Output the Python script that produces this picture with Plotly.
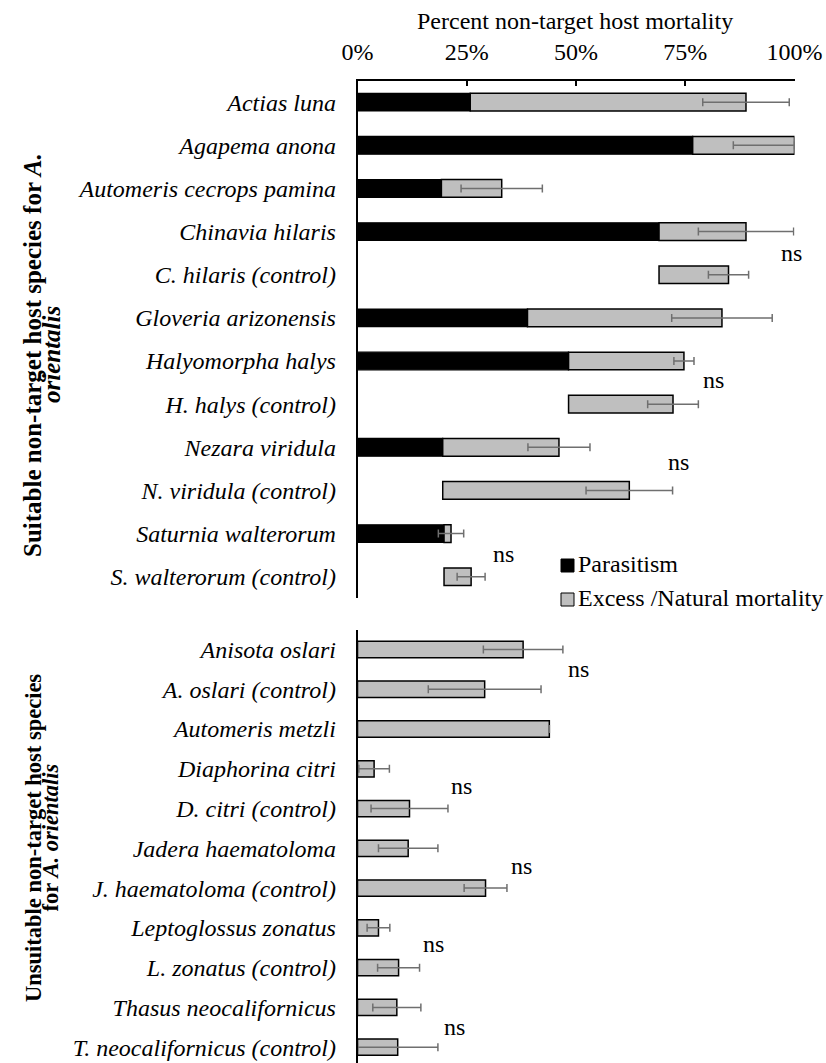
import plotly.graph_objects as go

# ---------------- data ----------------
suitable_hosts = [
    "Actias luna", "Agapema anona", "Automeris cecrops pamina", "Chinavia hilaris",
    "C. hilaris (control)", "Gloveria arizonensis", "Halyomorpha halys", "H. halys (control)",
    "Nezara viridula", "N. viridula (control)", "Saturnia walterorum", "S. walterorum (control)",
]
# parasitism (black); None for control rows
suitable_parasitism = [25.8, 76.7, 19.2, 69.0, None, 38.9, 48.3, None, 19.5, None, 19.8, None]
# excess / natural mortality (grey segment length)
suitable_natural = [63.1, 23.3, 13.8, 19.9, 15.9, 44.5, 26.4, 23.9, 26.6, 42.7, 1.6, 6.2]
# where the grey segment starts (controls aligned with treated parasitism)
suitable_offset = [25.8, 76.7, 19.2, 69.0, 69.0, 38.9, 48.3, 48.3, 19.5, 19.5, 19.8, 19.8]
suitable_err_plus = [9.9, 0.0, 9.3, 10.9, 4.6, 11.5, 2.3, 5.8, 7.1, 9.9, 2.9, 3.2]
suitable_err_minus = [9.9, 14.0, 9.3, 10.9, 4.6, 11.5, 2.3, 5.8, 7.1, 9.9, 2.9, 3.2]

unsuitable_hosts = [
    "Anisota oslari", "A. oslari (control)", "Automeris metzli", "Diaphorina citri",
    "D. citri (control)", "Jadera haematoloma", "J. haematoloma (control)",
    "Leptoglossus zonatus", "L. zonatus (control)", "Thasus neocalifornicus",
    "T. neocalifornicus (control)",
]
unsuitable_natural = [37.9, 29.1, 43.9, 3.8, 11.9, 11.6, 29.3, 4.8, 9.4, 9.0, 9.2]
unsuitable_err = [9.1, 12.9, None, 3.5, 8.8, 6.8, 4.9, 2.6, 4.8, 5.5, 9.2]

tick_vals = [0, 25, 50, 75, 100]
tick_text = ["0%", "25%", "50%", "75%", "100%"]

# "ns" labels: (x %, category index) per panel
ns_top = [(99.4, 3.50), (81.5, 6.45), (73.4, 8.35), (33.5, 10.48)]
ns_bottom = [(50.5, 0.50), (23.8, 3.43), (37.6, 5.44), (17.3, 7.40), (22.2, 9.50)]

# ---------------- layout constants ----------------
W, H = 826, 1063
FONT = "Liberation Serif"
BLACK = "#000000"
GREY = "#BFBFBF"
ERR = "#6f6f6f"

def px_x(p):
    return p / W

def px_y(p):
    return 1 - p / H

x_dom = [357.5 / W, 794.5 / W]

fig = go.Figure()

# top panel
fig.add_trace(go.Bar(
    y=suitable_hosts, x=suitable_parasitism, orientation="h",
    marker=dict(color=BLACK, line=dict(color=BLACK, width=1.2)),
    xaxis="x", yaxis="y", name="Parasitism", showlegend=False,
))
fig.add_trace(go.Bar(
    y=suitable_hosts, x=suitable_natural, base=suitable_offset, orientation="h",
    marker=dict(color=GREY, line=dict(color=BLACK, width=1.5)),
    error_x=dict(type="data", symmetric=False, array=suitable_err_plus,
                 arrayminus=suitable_err_minus, color=ERR, thickness=1.5, width=4),
    xaxis="x", yaxis="y", name="Excess /Natural mortality", showlegend=False,
    cliponaxis=False,
))

# bottom panel
fig.add_trace(go.Bar(
    y=unsuitable_hosts, x=unsuitable_natural, orientation="h",
    marker=dict(color=GREY, line=dict(color=BLACK, width=1.5)),
    error_x=dict(type="data", array=unsuitable_err, color=ERR, thickness=1.5, width=4),
    xaxis="x2", yaxis="y2", showlegend=False, cliponaxis=False,
))

annotations = []
for xv, yv in ns_top:
    annotations.append(dict(x=xv, y=yv, xref="x", yref="y", text="ns", showarrow=False,
                            font=dict(family=FONT, size=24, color="black"),
                            xanchor="center", yanchor="middle"))
for xv, yv in ns_bottom:
    annotations.append(dict(x=xv, y=yv, xref="x2", yref="y2", text="ns", showarrow=False,
                            font=dict(family=FONT, size=24, color="black"),
                            xanchor="center", yanchor="middle"))

# axis title
annotations.append(dict(x=px_x(575), y=px_y(21), xref="paper", yref="paper",
                        text="Percent non-target host mortality", showarrow=False,
                        font=dict(family=FONT, size=24, color="black"),
                        xanchor="center", yanchor="middle"))

# group titles
gfont_top = dict(family=FONT, size=25, color="black", weight="bold")
gfont_bot = dict(family=FONT, size=22.5, color="black", weight="bold")
annotations += [
    dict(x=px_x(32), y=px_y(355), xref="paper", yref="paper", textangle=-90,
         text="Suitable non-target host species for <i>A.</i>", showarrow=False,
         font=gfont_top, xanchor="center", yanchor="middle"),
    dict(x=px_x(51), y=px_y(355), xref="paper", yref="paper", textangle=-90,
         text="<i>orientalis</i>", showarrow=False,
         font=gfont_top, xanchor="center", yanchor="middle"),
    dict(x=px_x(33), y=px_y(838), xref="paper", yref="paper", textangle=-90,
         text="Unsuitable non-target host species", showarrow=False,
         font=gfont_bot, xanchor="center", yanchor="middle"),
    dict(x=px_x(49.5), y=px_y(838), xref="paper", yref="paper", textangle=-90,
         text="for <i>A. orientalis</i>", showarrow=False,
         font=gfont_bot, xanchor="center", yanchor="middle"),
]

# legend (manual)
annotations += [
    dict(x=px_x(576), y=px_y(563.5), xref="paper", yref="paper", text="Parasitism",
         showarrow=False, font=dict(family=FONT, size=24, color="black"),
         xanchor="left", yanchor="middle"),
    dict(x=px_x(576), y=px_y(597.5), xref="paper", yref="paper",
         text="Excess /Natural mortality",
         showarrow=False, font=dict(family=FONT, size=24, color="black"),
         xanchor="left", yanchor="middle"),
]
shapes = [
    dict(type="rect", xref="paper", yref="paper", x0=px_x(561), x1=px_x(574),
         y0=px_y(572), y1=px_y(559), fillcolor=BLACK, line=dict(color=BLACK, width=1)),
    dict(type="rect", xref="paper", yref="paper", x0=px_x(561), x1=px_x(574),
         y0=px_y(606), y1=px_y(593), fillcolor=GREY, line=dict(color=BLACK, width=1)),
]

fig.update_layout(
    width=W, height=H,
    margin=dict(l=0, r=0, t=0, b=0),
    paper_bgcolor="white", plot_bgcolor="white",
    barmode="overlay", bargap=0.59,
    annotations=annotations, shapes=shapes,
    xaxis=dict(domain=x_dom, range=[0, 100], side="top", anchor="y",
               showline=True, linecolor="black", linewidth=1.5,
               ticks="inside", ticklen=6, tickwidth=1.5, tickcolor="black",
               tickvals=tick_vals, ticktext=tick_text,
               tickfont=dict(family=FONT, size=24, color="black"),
               ticklabelstandoff=9,
               showgrid=False, zeroline=False, automargin=False, fixedrange=True),
    yaxis=dict(domain=[1 - 598.3 / H, 1 - 80.6 / H], anchor="x",
               type="category", categoryorder="array", categoryarray=suitable_hosts,
               range=[11.5, -0.5], showline=True, linecolor="black", linewidth=1.5,
               ticks="", tickfont=dict(family=FONT, size=24, color="black", style="italic"),
               ticklabelstandoff=15,
               showgrid=False, zeroline=False, automargin=False, fixedrange=True),
    xaxis2=dict(domain=x_dom, range=[0, 100], anchor="y2", visible=False,
                showgrid=False, zeroline=False, fixedrange=True),
    yaxis2=dict(domain=[0, 1 - 629.6 / H], anchor="x2",
                type="category", categoryorder="array", categoryarray=unsuitable_hosts,
                range=[10.398, -0.5], showline=True, linecolor="black", linewidth=1.5,
                ticks="", tickfont=dict(family=FONT, size=24, color="black", style="italic"),
                ticklabelstandoff=15,
                showgrid=False, zeroline=False, automargin=False, fixedrange=True),
)

fig.write_html(
    "out.html",
    config={"displayModeBar": False},
    post_script="document.body.style.margin='0px';document.body.style.overflow='hidden';",
)
